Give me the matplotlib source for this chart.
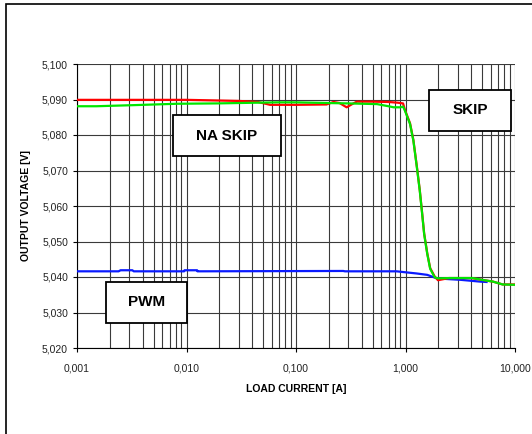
import numpy as np
import matplotlib.pyplot as plt
from matplotlib.ticker import FixedLocator, FuncFormatter, NullFormatter
from matplotlib.patches import Rectangle

plt.rcParams["font.family"] = ["Liberation Sans", "DejaVu Sans"]

# ---------------------------------------------------------------------------
# Dados (corrente [A], tensão [V])
# ---------------------------------------------------------------------------
i_red = [0.001, 0.003, 0.01, 0.03, 0.045, 0.058, 0.1, 0.19, 0.22, 0.25, 0.29,
         0.33, 0.36, 0.5, 0.7, 0.85, 0.95, 0.99, 1.10, 1.18, 1.27, 1.35, 1.42,
         1.48, 1.58, 1.68, 1.85, 1.98, 2.5, 4.0, 5.0, 6.3, 7.7, 10.0]
v_red = [5.0899, 5.0899, 5.0899, 5.0896, 5.0893, 5.0885, 5.0885, 5.0886, 5.0893,
         5.0890, 5.0878, 5.0888, 5.0894, 5.0894, 5.0893, 5.0891, 5.0889, 5.0870,
         5.0833, 5.0786, 5.0711, 5.0645, 5.0579, 5.0523, 5.0467, 5.0425, 5.0401,
         5.0391, 5.0397, 5.0397, 5.0392, 5.0387, 5.0379, 5.0379]

i_green = [0.001, 0.0015, 0.0032, 0.0082, 0.019, 0.067, 0.1, 0.2, 0.3, 0.55,
           0.7, 0.78, 0.9, 0.95, 0.99, 1.10, 1.18, 1.27, 1.35, 1.42, 1.48, 1.58,
           1.68, 1.85, 1.98, 2.5, 4.1, 5.0, 6.3, 7.7, 10.0]
v_green = [5.0881, 5.0881, 5.0884, 5.0888, 5.0889, 5.0892, 5.0892, 5.0890, 5.0889,
           5.0887, 5.0881, 5.0878, 5.0878, 5.0880, 5.0868, 5.0831, 5.0784, 5.0709,
           5.0643, 5.0577, 5.0521, 5.0465, 5.0423, 5.0399, 5.0396, 5.0397, 5.0397,
           5.0392, 5.0387, 5.0379, 5.0378]

i_blue = [0.001, 0.0024, 0.0025, 0.0032, 0.0033, 0.0095, 0.0096, 0.0125, 0.0126,
          0.27, 0.28, 0.83, 0.95, 1.26, 1.58, 1.94, 3.2, 4.8, 5.5]
v_blue = [5.0416, 5.0416, 5.0419, 5.0419, 5.0416, 5.0416, 5.0419, 5.0419, 5.0416,
          5.0417, 5.0416, 5.0416, 5.0414, 5.0410, 5.0406, 5.0396, 5.0392, 5.0387,
          5.0386]

y_ticks = [5.020, 5.030, 5.040, 5.050, 5.060, 5.070, 5.080, 5.090, 5.100]
x_ticks = [0.001, 0.01, 0.1, 1.0, 10.0]


def virgula(v, _pos=None):
    return f"{v:.3f}".replace(".", ",")


fig = plt.figure(figsize=(5.32, 4.34), dpi=100)
ax = fig.add_axes([77 / 532, 1 - 348 / 434, 438 / 532, 284 / 434])

# moldura externa
fig.patches.append(Rectangle((6 / 532, -0.05), 1.2, 1 - 4 / 434 + 0.05,
                             transform=fig.transFigure, fill=False,
                             edgecolor="black", lw=1.2))

ax.set_xscale("log")
ax.set_xlim(0.001, 10)
ax.set_ylim(5.020, 5.100)

ax.xaxis.set_major_locator(FixedLocator(x_ticks))
minor = [m * 10.0 ** e for e in range(-3, 1) for m in range(2, 10)]
ax.xaxis.set_minor_locator(FixedLocator(minor))
ax.xaxis.set_major_formatter(FuncFormatter(virgula))
ax.xaxis.set_minor_formatter(NullFormatter())
ax.yaxis.set_major_locator(FixedLocator(y_ticks))
ax.yaxis.set_major_formatter(FuncFormatter(virgula))

ax.grid(True, which="both", axis="x", color="#3a3a3a", lw=0.8)
ax.grid(True, which="major", axis="y", color="#3a3a3a", lw=0.8)
ax.tick_params(which="major", labelsize=7.5, length=3, width=0.8, colors="black",
               labelcolor="#222222")
ax.tick_params(which="minor", length=0)
ax.tick_params(axis="x", pad=8)

for s in ["top", "right"]:
    ax.spines[s].set_visible(False)
for s in ["left", "bottom"]:
    ax.spines[s].set_color("black")
    ax.spines[s].set_linewidth(0.8)

ax.plot(i_blue, v_blue, color="#0a1aff", lw=1.6, zorder=3)
ax.plot(i_red, v_red, color="#ff0000", lw=1.6, zorder=4)
ax.plot(i_green, v_green, color="#00e600", lw=1.6, zorder=5)

ax.set_xlabel("LOAD CURRENT [A]", fontsize=7.5, fontweight="bold", labelpad=8)
ax.set_ylabel("OUTPUT VOLTAGE [V]", fontsize=7.5, fontweight="bold", labelpad=8)

# caixas de texto (coordenadas da figura)
caixas = [("NA SKIP", 173, 115, 281, 156), ("SKIP", 429, 90, 511, 131),
          ("PWM", 106, 282, 187, 323)]
for txt, x0, y0, x1, y1 in caixas:
    fig.patches.append(Rectangle((x0 / 532, 1 - y1 / 434), (x1 - x0) / 532,
                                 (y1 - y0) / 434, transform=fig.transFigure,
                                 facecolor="white", edgecolor="black", lw=1.3,
                                 zorder=10))
    fig.text((x0 + x1) / 2 / 532, 1 - (y0 + y1) / 2 / 434, txt, ha="center",
             va="center", fontsize=11, fontweight="bold", zorder=11)

fig.savefig("out.png", dpi=100)
